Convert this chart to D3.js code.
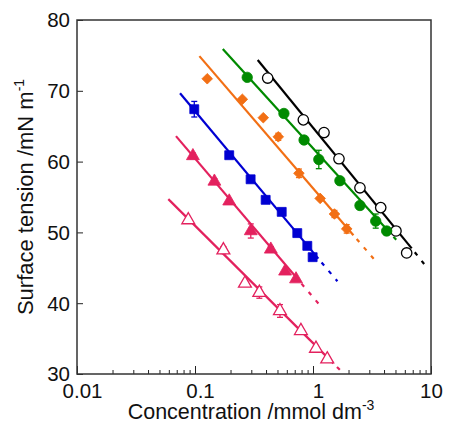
<!DOCTYPE html>
<html lang="en">
<head>
<meta charset="UTF-8">
<title>Surface tension</title>
<style>
  body { margin: 0; background: #fff; }
  text { font-family: "Liberation Sans", Arial, sans-serif; fill: #111; }
</style>
</head>
<body>
<svg id="chart" width="451" height="425"></svg>
<script src="https://d3js.org/d3.v7.min.js"></script>
<script>
// series data (concentration mmol dm-3, surface tension mN m-1, error)
var blackX = [0.413, 0.828, 1.24, 1.66, 2.50, 3.75, 5.05, 6.22];
var blackY = [71.8, 65.9, 64.1, 60.4, 56.3, 53.5, 50.2, 47.1];
var blackE = [0, 0, 0.5, 0, 0, 0, 0, 0];

var greenX = [0.277, 0.567, 0.84, 1.12, 1.69, 2.50, 3.40, 4.21];
var greenY = [71.9, 66.8, 63.05, 60.3, 57.3, 53.8, 51.6, 50.2];
var greenE = [0, 0, 0, 1.3, 0, 0, 1.0, 0.5];

var orangeX = [0.127, 0.252, 0.379, 0.508, 0.76, 1.15, 1.52, 1.93];
var orangeY = [71.7, 68.8, 66.2, 63.5, 58.35, 54.8, 52.6, 50.5];
var orangeE = [0, 0, 0, 0.5, 0.6, 0, 0.5, 0.6];

var blueX = [0.0986, 0.195, 0.296, 0.397, 0.543, 0.736, 0.895, 0.993];
var blueY = [67.4, 60.9, 57.5, 54.6, 52.9, 49.9, 48.1, 46.5];
var blueE = [1.1, 0, 0, 0, 0, 0, 0, 0];

var redX = [0.096, 0.146, 0.195, 0.297, 0.439, 0.58, 0.718];
var redY = [60.8, 57.2, 54.4, 50.2, 47.6, 44.5, 43.4];
var redE = [0.4, 0.4, 0, 1.0, 0.4, 0, 0];

var pinkX = [0.0877, 0.174, 0.265, 0.351, 0.525, 0.79, 1.06, 1.32];
var pinkY = [51.75, 47.5, 42.8, 41.5, 38.9, 36.1, 33.6, 32.1];
var pinkE = [0, 0.5, 0, 0.8, 0.9, 0, 0, 0];

// fitted lines: [x start, x end of solid, x end of dashed], [y at those x]
var blackFitX = [0.34, 6.86, 9.49];   var blackFitY = [74.35, 47.75, 44.8];
var greenFitX = [0.172, 4.5, 5.25];   var greenFitY = [75.9, 49.9, 48.7];
var orangeFitX = [0.109, 2.2, 3.42];  var orangeFitY = [74.9, 49.6, 45.9];
var blueFitX = [0.0747, 1.11, 1.61];  var blueFitY = [69.65, 46.3, 43.1];
var redFitX = [0.069, 0.75, 1.12];    var redFitY = [63.6, 43.3, 39.9];
var pinkFitX = [0.0594, 1.49, 1.81];  var pinkFitY = [54.7, 31.5, 30.1];

var xTicks = [0.01, 0.1, 1, 10];
var yTicks = [30, 40, 50, 60, 70, 80];

var series = [
  {xs: blackX, ys: blackY, es: blackE, fx: blackFitX, fy: blackFitY, color: "#000000", shape: "circle", open: true},
  {xs: greenX, ys: greenY, es: greenE, fx: greenFitX, fy: greenFitY, color: "#008a00", shape: "circle", open: false},
  {xs: orangeX, ys: orangeY, es: orangeE, fx: orangeFitX, fy: orangeFitY, color: "#f26f14", shape: "diamond", open: false},
  {xs: blueX, ys: blueY, es: blueE, fx: blueFitX, fy: blueFitY, color: "#0000d2", shape: "square", open: false},
  {xs: redX, ys: redY, es: redE, fx: redFitX, fy: redFitY, color: "#e3215e", shape: "triangle", open: false},
  {xs: pinkX, ys: pinkY, es: pinkE, fx: pinkFitX, fy: pinkFitY, color: "#e3215e", shape: "triangle", open: true}
];

var svg = d3.select("#chart"),
    m = {left: 77, top: 20, right: 20, bottom: 51},
    w = 451 - m.left - m.right,
    h = 425 - m.top - m.bottom;

var x = d3.scaleLog().domain([0.01, 10]).range([0, w]),
    y = d3.scaleLinear().domain([30, 80]).range([h, 0]);

var g = svg.append("g").attr("transform", "translate(" + m.left + "," + m.top + ")");

g.append("defs").append("clipPath").attr("id", "clip")
  .append("rect").attr("width", w).attr("height", h);

// axes
var minor = [];
[0.01, 0.1, 1].forEach(function (d) {
  for (var k = 2; k <= 9; k++) minor.push(d * k);
});

var xm = g.append("g").attr("transform", "translate(0," + h + ")")
  .call(d3.axisBottom(x).tickValues(minor).tickSize(-4).tickFormat(""));
xm.select(".domain").remove();
xm.selectAll("text").remove();
xm.selectAll("line").attr("stroke", "#222");

var xa = g.append("g").attr("transform", "translate(0," + h + ")")
  .call(d3.axisBottom(x).tickValues(xTicks).tickSize(-8).tickPadding(9)
    .tickFormat(function (d) { return d < 1 ? String(d) : d3.format("d")(d); }));
xa.select(".domain").remove();
xa.selectAll("line").attr("stroke", "#222");
xa.selectAll("text").attr("font-size", 20.5).attr("dy", "0.71em")
  .attr("dx", function (d) { return d < 10 ? 5 : 0; });

var ya = g.append("g")
  .call(d3.axisLeft(y).tickValues(yTicks).tickSize(-6).tickPadding(7));
ya.select(".domain").remove();
ya.selectAll("line").attr("stroke", "#222");
ya.selectAll("text").attr("font-size", 20.5).attr("dy", "0.34em");

g.append("rect").attr("width", w).attr("height", h)
  .attr("fill", "none").attr("stroke", "#333").attr("stroke-width", 1.5);

// fit lines
var line = d3.line().x(function (d) { return x(d[0]); }).y(function (d) { return y(d[1]); });
var plot = g.append("g").attr("clip-path", "url(#clip)");

series.forEach(function (s) {
  plot.append("path").attr("d", line([[s.fx[0], s.fy[0]], [s.fx[1], s.fy[1]]]))
    .attr("stroke", s.color).attr("stroke-width", 2.2).attr("fill", "none");
  plot.append("path").attr("d", line([[s.fx[1], s.fy[1]], [s.fx[2], s.fy[2]]]))
    .attr("stroke", s.color).attr("stroke-width", 2.2).attr("fill", "none")
    .attr("stroke-dasharray", "4,7").attr("stroke-dashoffset", -5);
});

// error bars and markers
var shapes = {
  circle: d3.symbol().type(d3.symbolCircle).size(85),
  diamond: d3.symbol().type(d3.symbolSquare).size(56),
  square: d3.symbol().type(d3.symbolSquare).size(80),
  triangle: d3.symbol().type(d3.symbolTriangle).size(72)
};

series.forEach(function (s) {
  var pts = s.xs.map(function (v, i) { return {x: v, y: s.ys[i], e: s.es[i]}; });
  var eb = g.append("g").attr("stroke", s.color).attr("stroke-width", 1.3);
  pts.filter(function (p) { return p.e > 0; }).forEach(function (p) {
    var cx = x(p.x);
    eb.append("line").attr("x1", cx).attr("x2", cx).attr("y1", y(p.y - p.e)).attr("y2", y(p.y + p.e));
    eb.append("line").attr("x1", cx - 3).attr("x2", cx + 3).attr("y1", y(p.y - p.e)).attr("y2", y(p.y - p.e));
    eb.append("line").attr("x1", cx - 3).attr("x2", cx + 3).attr("y1", y(p.y + p.e)).attr("y2", y(p.y + p.e));
  });
  g.append("g").selectAll("path").data(pts).enter().append("path")
    .attr("d", shapes[s.shape])
    .attr("transform", function (p) {
      return "translate(" + x(p.x) + "," + y(p.y) + ")" + (s.shape === "diamond" ? " rotate(45)" : "");
    })
    .attr("fill", s.open ? "#fff" : s.color)
    .attr("stroke", s.color)
    .attr("stroke-width", s.open ? 1.3 : 0.8);
});

// axis titles
var xt = svg.append("text").attr("x", m.left + w / 2 - 3).attr("y", 419)
  .attr("text-anchor", "middle").attr("font-size", 21.5);
xt.append("tspan").text("Concentration /mmol dm");
xt.append("tspan").attr("font-size", 14).attr("dy", -9).text("-3");

var yt = svg.append("text")
  .attr("transform", "translate(33," + (m.top + h / 2) + ") rotate(-90)")
  .attr("text-anchor", "middle").attr("font-size", 22);
yt.append("tspan").text("Surface tension /mN m");
yt.append("tspan").attr("font-size", 14).attr("dy", -9).text("-1");
</script>
</body>
</html>
